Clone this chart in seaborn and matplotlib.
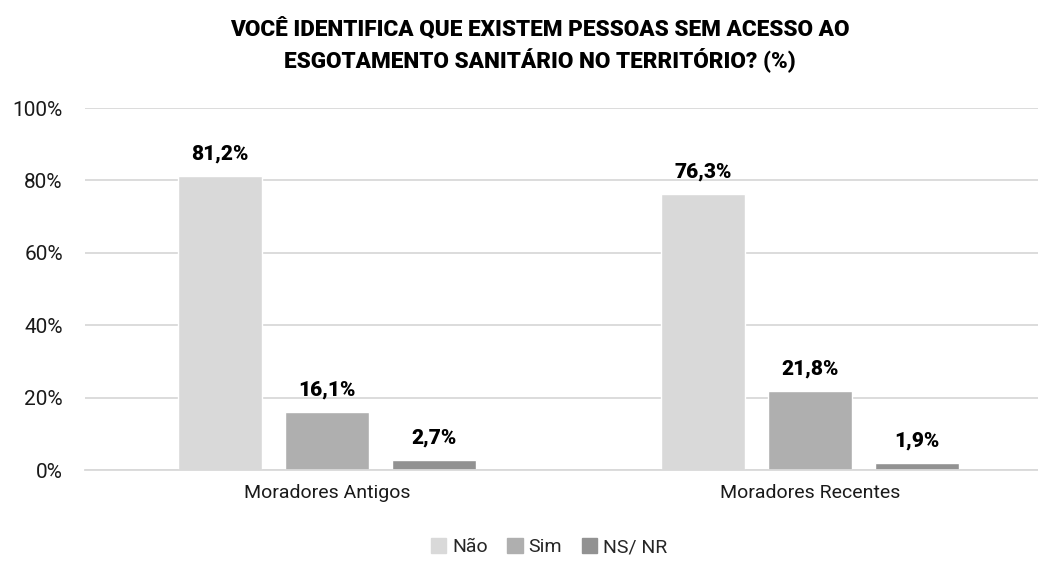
import matplotlib
matplotlib.use("Agg")
import matplotlib.pyplot as plt
import seaborn as sns
import pandas as pd

categories = ["Moradores Antigos", "Moradores Recentes"]
series = ["Não", "Sim", "NS/ NR"]
nao = [81.2, 76.3]
sim = [16.1, 21.8]
nsnr = [2.7, 1.9]
yticks = [0, 20, 40, 60, 80, 100]
title = "VOCÊ IDENTIFICA QUE EXISTEM PESSOAS SEM ACESSO AO\nESGOTAMENTO SANITÁRIO NO TERRITÓRIO? (%)"
colors = ["#d9d9d9", "#afafaf", "#929292"]

sns.set_theme(style="white")
plt.rcParams["font.family"] = ["Roboto", "DejaVu Sans"]

rows = []
for s, vals in zip(series, [nao, sim, nsnr]):
    for c, v in zip(categories, vals):
        rows.append({"cat": c, "serie": s, "val": v})
df = pd.DataFrame(rows)

W, H = 1038, 561
fig = plt.figure(figsize=(W / 100, H / 100), dpi=100)
ax = fig.add_axes([85 / W, 1 - 470 / H, (1038 - 85) / W, (470 - 108) / H])

sns.barplot(data=df, x="cat", y="val", hue="serie", order=categories,
            hue_order=series, palette=colors, width=0.664, gap=0.215,
            saturation=1, ax=ax, legend=False)

ax.set_ylim(0, 100)
ax.set_xlim(-0.5, -0.5 + (1038 - 85) / 483.5)
ax.set_yticks(yticks)
ax.set_yticklabels([f"{t}%" for t in yticks], fontsize=15, color="#1a1a1a")
ax.tick_params(axis="x", labelsize=14, colors="#1a1a1a", length=0, pad=10)
ax.tick_params(axis="y", length=0, pad=16)
ax.grid(axis="y", color="#d9d9d9", linewidth=1.3)
ax.set_axisbelow(True)
for side in ["top", "right", "left"]:
    ax.spines[side].set_visible(False)
ax.spines["bottom"].set_color("#d9d9d9")
ax.spines["bottom"].set_linewidth(1.3)
ax.set_xlabel("")
ax.set_ylabel("")

for cont in ax.containers:
    labels = [f"{b.get_height():.1f}%".replace(".", ",") for b in cont]
    ax.bar_label(cont, labels=labels, padding=9, fontsize=15, fontweight="heavy", color="#000000")

fig.text(540 / W, 1 - 45 / H, title, ha="center", va="center", fontsize=16.2,
         fontweight="heavy", color="#000000", linespacing=1.35)

handles = [plt.Rectangle((0, 0), 1, 1, color=c) for c in colors]
fig.legend(handles, series, loc="center", bbox_to_anchor=(549 / W, 1 - 547 / H), ncol=3,
           frameon=False, fontsize=14, handlelength=0.8, handleheight=0.8,
           handletextpad=0.3, columnspacing=1.0)

fig.savefig("out.png", dpi=100)
